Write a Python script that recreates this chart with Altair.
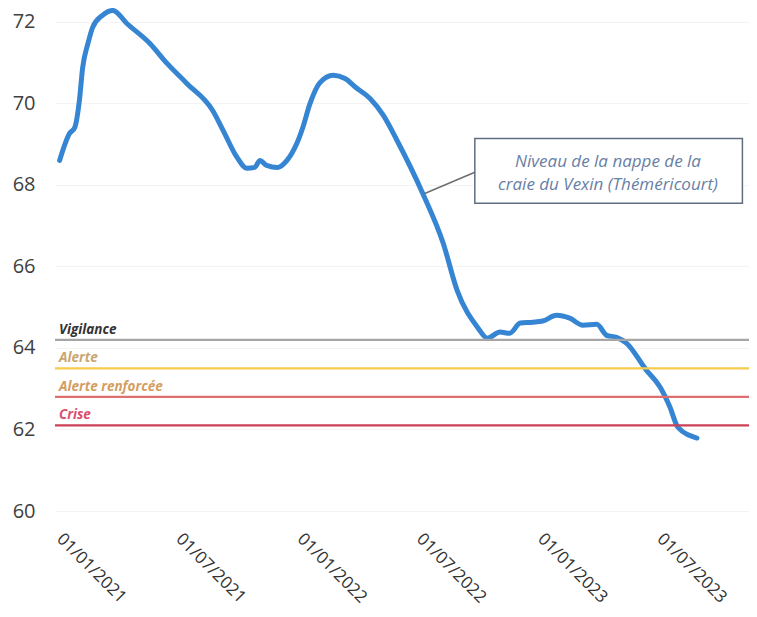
import altair as alt
import pandas as pd

# Groundwater level series (m NGF)
dates = [
    "2021-01-02", "2021-01-17", "2021-01-25", "2021-02-01", "2021-02-06", "2021-02-14",
    "2021-02-21", "2021-03-08", "2021-03-24", "2021-04-14", "2021-05-19", "2021-06-14",
    "2021-07-14", "2021-08-22", "2021-09-07", "2021-09-28", "2021-10-13", "2021-10-25",
    "2021-11-02", "2021-11-12", "2021-11-29", "2021-12-13", "2021-12-28", "2022-01-06",
    "2022-01-17", "2022-02-01", "2022-02-21", "2022-03-11", "2022-03-29", "2022-04-18",
    "2022-05-08", "2022-05-29", "2022-07-07", "2022-08-07", "2022-08-28", "2022-09-28",
    "2022-10-13", "2022-11-01", "2022-11-16", "2022-12-02", "2022-12-21", "2023-01-05",
    "2023-01-26", "2023-02-15", "2023-03-07", "2023-03-28", "2023-04-12", "2023-04-27",
    "2023-05-12", "2023-06-11", "2023-07-02", "2023-07-17", "2023-07-29", "2023-08-27",
]
levels = [
    68.60, 69.26, 69.41, 70.07, 70.88, 71.47,
    71.86, 72.16, 72.28, 71.96, 71.47, 70.98,
    70.49, 69.83, 69.34, 68.68, 68.41, 68.43,
    68.60, 68.48, 68.43, 68.60, 69.02, 69.41,
    70.00, 70.51, 70.69, 70.61, 70.37, 70.12,
    69.71, 69.09, 67.79, 66.57, 65.42, 64.51,
    64.24, 64.39, 64.36, 64.61, 64.63, 64.66,
    64.80, 64.73, 64.56, 64.58, 64.31, 64.26,
    64.12, 63.46, 63.04, 62.55, 62.06, 61.79,
]

# Drought thresholds
threshold_names = ["Vigilance", "Alerte", "Alerte renforcée", "Crise"]
threshold_values = [64.2, 63.5, 62.8, 62.1]
threshold_line_colors = ["#a6a6a6", "#f4cb4a", "#dd6f70", "#cc4155"]
threshold_label_colors = ["#333333", "#c9a66f", "#d49d60", "#d9506d"]

y_ticks = [60, 62, 64, 66, 68, 70, 72]
x_ticks = [(2021, 1), (2021, 7), (2022, 1), (2022, 7), (2023, 1), (2023, 7)]

# Callout (in data coordinates)
callout_lines = ["Niveau de la nappe de la", "craie du Vexin (Théméricourt)"]
callout_line_levels = [68.43, 67.87]
callout_center_date = "2023-04-14"
callout_box = {"x0": "2022-09-24", "x1": "2023-11-04", "y0": 67.55, "y1": 69.14}
leader = {"x0": "2022-07-10", "y0": 67.79, "x1": "2022-09-24", "y1": 68.31}

FONT = "Open Sans"

line_df = pd.DataFrame({"date": dates, "level": levels})
thr_df = pd.DataFrame({
    "name": threshold_names,
    "value": threshold_values,
    "label_date": ["2021-01-01"] * len(threshold_names),
})
box_df = pd.DataFrame([callout_box])
lead_df = pd.DataFrame([leader])
txt_df = pd.DataFrame({"text": callout_lines, "level": callout_line_levels,
                       "date": [callout_center_date] * len(callout_lines)})

x_scale = alt.Scale(
    type="utc",
    domain=[alt.DateTime(year=2020, month=12, date=26, utc=True),
            alt.DateTime(year=2023, month=11, date=14, utc=True)],
)
y_scale = alt.Scale(domain=[60, 72.34], nice=False, zero=False)

x_axis = alt.Axis(
    values=[alt.DateTime(year=y, month=m, date=1, utc=True) for y, m in x_ticks],
    labelExpr="utcFormat(datum.value, '%d/%m/%Y')",
    labelAngle=45, labelAlign="left", labelBaseline="middle",
    labelPadding=25, labelFontSize=17, labelFont=FONT, labelColor="#333333",
    labelOverlap=False, labelFlush=False,
    grid=False, domain=False, ticks=False, title=None,
)
y_axis = alt.Axis(
    values=y_ticks, labelFontSize=20, labelFont=FONT, labelColor="#404040",
    labelPadding=20, domain=False, ticks=False, grid=True,
    gridColor="#f3f3f3", gridWidth=1, title=None,
)

line = alt.Chart(line_df).mark_line(
    interpolate="monotone", strokeWidth=5, color="#3585d3", strokeCap="round", strokeJoin="round"
).encode(
    x=alt.X("date:T", scale=x_scale, axis=x_axis),
    y=alt.Y("level:Q", scale=y_scale, axis=y_axis),
)

rules = alt.Chart(thr_df).mark_rule(strokeWidth=2.2).encode(
    y=alt.Y("value:Q", scale=y_scale, title=None),
    color=alt.Color("name:N", scale=alt.Scale(domain=threshold_names, range=threshold_line_colors), legend=None),
)

labels = alt.Chart(thr_df).mark_text(
    align="left", baseline="alphabetic", dy=-6, font=FONT, fontSize=13.5,
    fontStyle="italic", fontWeight="bold",
).encode(
    x=alt.X("label_date:T", scale=x_scale, title=None),
    y=alt.Y("value:Q", scale=y_scale, title=None),
    text="name:N",
    color=alt.Color("name:N", scale=alt.Scale(domain=threshold_names, range=threshold_label_colors), legend=None),
)

leader_rule = alt.Chart(lead_df).mark_rule(color="#6e6e6e", strokeWidth=1.5).encode(
    x=alt.X("x0:T", scale=x_scale, title=None), x2="x1:T",
    y=alt.Y("y0:Q", scale=y_scale, title=None), y2="y1:Q",
)

box = alt.Chart(box_df).mark_rect(fill="white", stroke="#5f6e80", strokeWidth=1.5).encode(
    x=alt.X("x0:T", scale=x_scale, title=None), x2="x1:T",
    y=alt.Y("y0:Q", scale=y_scale, title=None), y2="y1:Q",
)

callout_text = alt.Chart(txt_df).mark_text(
    align="center", baseline="alphabetic", font=FONT, fontSize=17,
    fontStyle="italic", color="#6880a4",
).encode(
    x=alt.X("date:T", scale=x_scale, title=None),
    y=alt.Y("level:Q", scale=y_scale, title=None),
    text="text:N",
)

chart = alt.layer(line, rules, labels, leader_rule, box, callout_text).resolve_scale(
    color="independent"
).properties(
    width=694, height=503,
    autosize=alt.AutoSizeParams(type="none"),
    padding={"left": 47, "top": 0, "right": 0, "bottom": 97},
    background="white",
).configure_view(stroke=None)

chart.save("out.html", embed_options={"renderer": "svg", "actions": False})
